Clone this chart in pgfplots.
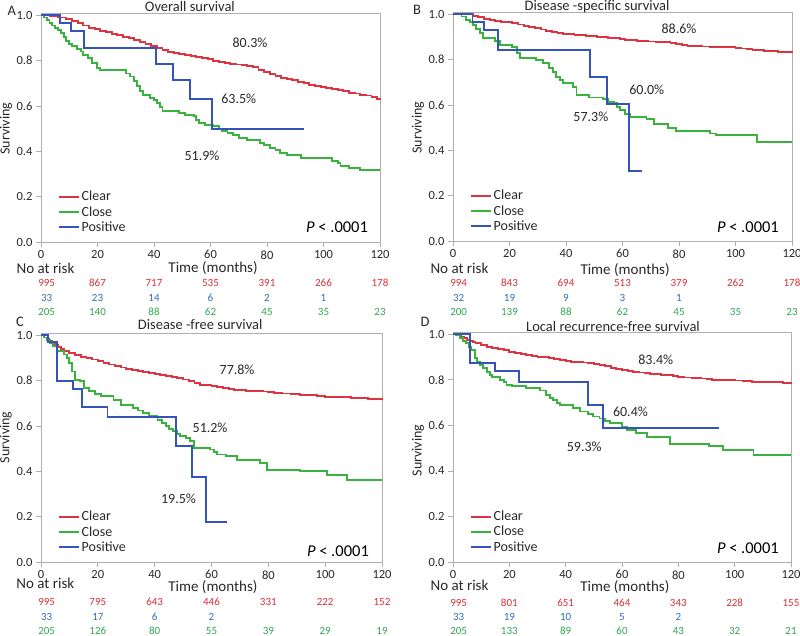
\documentclass[border=0pt]{standalone}
\usepackage{fontspec}
\setmainfont{Carlito}
\usepackage{pgfplots}
\pgfplotsset{compat=1.18}

\definecolor{cred}{RGB}{222,52,66}
\definecolor{cgreen}{RGB}{58,178,62}
\definecolor{cblue}{RGB}{52,84,188}
\definecolor{tred}{RGB}{214,48,58}
\definecolor{tblue}{RGB}{46,112,184}
\definecolor{tgreen}{RGB}{48,166,78}
\definecolor{axgray}{RGB}{175,175,175}
\definecolor{txt}{RGB}{40,40,40}

\pgfplotsset{
  km/.style={
    scale only axis, clip=false,
    xmin=0, xmax=120, ymin=0, ymax=1.01,
    xtick={0,20,40,60,80,100,120}, ytick={0,0.2,0.4,0.6,0.8,1},
    xtick pos=bottom, ytick pos=left, tick align=outside, major tick length=5pt,
    axis line style={axgray, line width=0.8pt},
    every tick/.style={axgray, line width=0.8pt},
    tick label style={font=\fontsize{12.5}{14}\selectfont, text=txt},
    /pgf/number format/assume math mode=true,
    yticklabel style={/pgf/number format/.cd, fixed, fixed zerofill, precision=1},
    legend cell align=left,
    legend image code/.code={\draw[##1] (0pt,0pt) -- (20pt,0pt);},
    legend style={draw=none, fill=none, at={(0.04,0.24)}, anchor=north west,
      font=\fontsize{14}{15}\selectfont, text=txt, row sep=0pt},
  },
  kml/.style={const plot, mark=none, line width=1.9pt, color=#1},
  risk/.style 2 args={forget plot, draw=none, nodes near coords,
    point meta=explicit symbolic, nodes near coords align=center,
    every node near coord/.append style={font=\fontsize{11}{12}\selectfont, text=#1, yshift=#2}},
}
\newcommand{\tfont}{\fontsize{14.5}{16}\selectfont}
\newcommand{\pfont}{\fontsize{14}{15}\selectfont}
\newcommand{\nfont}{\fontsize{15}{17}\selectfont}
\newcommand{\Pfont}{\fontsize{16.5}{18}\selectfont}

\begin{document}
\begin{tikzpicture}
\useasboundingbox (0pt,0pt) rectangle (800pt,-636pt);

% ---------------- A: overall survival
\begin{axis}[km, at={(41pt,-242pt)}, anchor=south west, width=339pt, height=229pt]
\addplot[kml=cred] coordinates {(0,1) (3,0.995) (6,0.99) (9,0.982) (11,0.975) (13,0.965) (15,0.955) (17,0.945) (19,0.938) (21,0.932) (23,0.925) (25,0.918) (27,0.912) (29,0.905) (31,0.898) (33,0.89) (35,0.883) (37,0.875) (39,0.866) (41,0.855) (43,0.845) (45,0.838) (47,0.833) (49,0.829) (51,0.825) (53,0.82) (55,0.816) (57,0.811) (59,0.806) (61,0.80) (63,0.795) (65,0.79) (67,0.787) (69,0.783) (71,0.779) (73,0.775) (75,0.77) (77,0.76) (79,0.75) (81,0.74) (83,0.732) (85,0.725) (87,0.719) (89,0.713) (91,0.706) (93,0.7) (95,0.694) (97,0.689) (99,0.683) (101,0.679) (103,0.675) (105,0.67) (107,0.664) (109,0.658) (111,0.655) (113,0.65) (115,0.646) (117,0.64) (119,0.632) (120,0.627)};
\addplot[kml=cgreen] coordinates {(0,1) (1,0.99) (2,0.98) (3,0.966) (4,0.955) (5,0.945) (6,0.935) (7,0.92) (8,0.905) (9,0.885) (10,0.875) (11,0.865) (12.6,0.85) (14,0.84) (15,0.826) (16.5,0.81) (18,0.79) (19.7,0.768) (21,0.76) (30,0.743) (31.5,0.73) (33,0.709) (34,0.69) (35,0.665) (36,0.65) (38.6,0.635) (40,0.625) (41,0.613) (42,0.595) (43,0.576) (49,0.57) (51,0.562) (54,0.554) (55,0.54) (56,0.525) (58,0.518) (61,0.51) (63,0.5) (64,0.49) (66,0.48) (68,0.47) (70,0.459) (73,0.45) (77.5,0.437) (79,0.426) (81,0.415) (83,0.405) (84.6,0.393) (87,0.385) (92,0.37) (103,0.356) (105,0.347) (106,0.337) (109,0.326) (113,0.316) (120,0.316)};
\addplot[kml=cblue] coordinates {(0,1) (6.7,0.966) (10.6,0.93) (15.3,0.857) (40.6,0.785) (46.8,0.715) (52.7,0.63) (60.4,0.50) (93,0.50)};
\legend{Clear, Close, Positive}
\addplot[risk={tred}{-41pt}] coordinates {(2,0)[995] (20,0)[867] (40,0)[717] (60,0)[535] (80,0)[391] (100,0)[266] (120,0)[178]};
\addplot[risk={tblue}{-56pt}] coordinates {(2,0)[33] (20,0)[23] (40,0)[14] (60,0)[6] (80,0)[2] (100,0)[1]};
\addplot[risk={tgreen}{-70pt}] coordinates {(2,0)[205] (20,0)[140] (40,0)[88] (60,0)[62] (80,0)[45] (100,0)[35] (120,0)[23]};
\node[font=\tfont, text=txt, yshift=235pt] at (axis cs:52.7,0) {Overall survival};
\node[font=\tfont, text=txt, yshift=231pt] at (axis cs:-10.3,0) {A};
\node[font=\pfont, text=txt, rotate=90] at (axis cs:-12.4,0.5) {Surviving};
\node[font=\pfont, text=txt] at (axis cs:74,0.878) {80.3\%};
\node[font=\pfont, text=txt] at (axis cs:70,0.63) {63.5\%};
\node[font=\pfont, text=txt] at (axis cs:57,0.38) {51.9\%};
\node[font=\Pfont, text=black, yshift=15pt] at (axis cs:104.8,0) {\textit{P} < .0001};
\node[font=\nfont, text=txt, anchor=west, yshift=-26pt] at (axis cs:-9.9,0) {No at risk};
\node[font=\nfont, text=txt, yshift=-26pt] at (axis cs:60.9,0) {Time (months)};
\end{axis}

% ---------------- B: disease-specific survival
\begin{axis}[km, at={(453pt,-241pt)}, anchor=south west, width=339pt, height=229pt]
\addplot[kml=cred] coordinates {(0,1) (5,1) (7,0.993) (9,0.987) (11,0.98) (13,0.975) (15,0.97) (17,0.967) (19,0.964) (21,0.96) (23,0.955) (25,0.95) (27,0.945) (29,0.94) (31,0.933) (33,0.927) (35,0.922) (37,0.918) (39,0.914) (41,0.911) (43,0.909) (45,0.907) (47,0.905) (49,0.903) (51,0.90) (53,0.899) (55,0.897) (57,0.894) (59,0.891) (61,0.888) (63,0.886) (65,0.884) (67,0.882) (69,0.88) (72,0.879) (75,0.878) (77,0.875) (79,0.87) (81,0.866) (83,0.862) (85,0.86) (88,0.858) (91,0.857) (94,0.856) (97,0.854) (100,0.852) (102,0.849) (104,0.846) (106,0.843) (108,0.841) (110,0.839) (112,0.837) (115,0.835) (120,0.834)};
\addplot[kml=cgreen] coordinates {(0,1) (3,0.99) (4.7,0.975) (6,0.965) (7,0.953) (8,0.935) (9.5,0.916) (10.6,0.894) (15,0.884) (16.5,0.864) (21,0.857) (22.5,0.828) (23.6,0.806) (29.5,0.798) (32,0.784) (34,0.762) (35.5,0.747) (36.6,0.724) (38,0.71) (39,0.698) (42.5,0.68) (43.7,0.644) (48,0.633) (53,0.626) (55,0.615) (57,0.607) (58,0.59) (59,0.577) (61,0.56) (62.6,0.548) (68.5,0.538) (71,0.518) (76,0.50) (79,0.485) (91,0.474) (93,0.467) (107.5,0.437) (120,0.437)};
\addplot[kml=cblue] coordinates {(0,1) (6.9,0.966) (11,0.93) (16,0.843) (48.5,0.722) (54.4,0.605) (62.3,0.31) (66.8,0.31)};
\legend{Clear, Close, Positive}
\addplot[risk={tred}{-42pt}] coordinates {(2,0)[994] (20,0)[843] (40,0)[694] (60,0)[513] (80,0)[379] (100,0)[262] (120,0)[178]};
\addplot[risk={tblue}{-57pt}] coordinates {(2,0)[32] (20,0)[19] (40,0)[9] (60,0)[3] (80,0)[1]};
\addplot[risk={tgreen}{-71pt}] coordinates {(2,0)[200] (20,0)[139] (40,0)[88] (60,0)[62] (80,0)[45] (100,0)[35] (120,0)[23]};
\node[font=\tfont, text=txt, yshift=234pt] at (axis cs:51,0) {Disease -specific survival};
\node[font=\tfont, text=txt, yshift=231pt] at (axis cs:-12.7,0) {B};
\node[font=\pfont, text=txt, rotate=90] at (axis cs:-12.4,0.5) {Surviving};
\node[font=\pfont, text=txt] at (axis cs:80,0.938) {88.6\%};
\node[font=\pfont, text=txt] at (axis cs:68.6,0.666) {60.0\%};
\node[font=\pfont, text=txt] at (axis cs:48.8,0.548) {57.3\%};
\node[font=\Pfont, text=black, yshift=14pt] at (axis cs:104.4,0) {\textit{P} < .0001};
\node[font=\nfont, text=txt, anchor=west, yshift=-27pt] at (axis cs:-9.2,0) {No at risk};
\node[font=\nfont, text=txt, yshift=-29.5pt] at (axis cs:60.9,0) {Time (months)};
\end{axis}

% ---------------- C: disease-free survival
\begin{axis}[km, at={(41pt,-562pt)}, anchor=south west, width=341pt, height=229pt]
\addplot[kml=cred] coordinates {(0,1) (1,0.99) (2,0.982) (3,0.974) (4,0.965) (5,0.957) (6,0.948) (7,0.94) (8,0.932) (10,0.922) (12,0.913) (14,0.906) (16,0.9) (18,0.893) (20,0.885) (22,0.878) (24,0.871) (26,0.864) (28,0.858) (30,0.852) (32,0.847) (34,0.843) (36,0.838) (38,0.833) (40,0.829) (42,0.825) (44,0.821) (46,0.817) (48,0.812) (50,0.805) (52,0.797) (54,0.79) (56,0.782) (58,0.779) (60,0.776) (62,0.77) (64,0.766) (66,0.763) (68,0.76) (70,0.758) (72,0.756) (74,0.754) (76,0.753) (78,0.752) (80,0.75) (82,0.746) (85,0.743) (88,0.74) (91,0.738) (94,0.735) (97,0.732) (100,0.729) (103,0.728) (106,0.726) (109,0.724) (112,0.722) (115,0.72) (118,0.717) (120,0.714)};
\addplot[kml=cgreen] coordinates {(0,1) (1,0.99) (2,0.98) (3.2,0.966) (4.3,0.951) (5.5,0.93) (8,0.915) (9,0.9) (10,0.878) (11,0.84) (12,0.804) (13.7,0.797) (15,0.768) (17,0.753) (19,0.742) (21,0.731) (25.5,0.716) (28,0.694) (32.5,0.68) (34,0.668) (36,0.657) (38,0.645) (41,0.628) (42.5,0.614) (44,0.6) (45,0.588) (46.6,0.576) (48,0.565) (49,0.554) (51,0.545) (52.5,0.532) (53.7,0.503) (59.5,0.496) (61,0.485) (62,0.474) (65,0.466) (69,0.451) (77,0.437) (79.5,0.407) (91,0.4) (100.6,0.382) (107.7,0.363) (120,0.363)};
\addplot[kml=cblue] coordinates {(0,1) (2.6,0.97) (5.5,0.80) (11.4,0.765) (14.3,0.685) (23.4,0.64) (47.4,0.51) (53,0.375) (58,0.178) (65.6,0.178)};
\legend{Clear, Close, Positive}
\addplot[risk={tred}{-40pt}] coordinates {(2,0)[995] (20,0)[795] (40,0)[643] (60,0)[446] (80,0)[331] (100,0)[222] (120,0)[152]};
\addplot[risk={tblue}{-55pt}] coordinates {(2,0)[33] (20,0)[17] (40,0)[6] (60,0)[2]};
\addplot[risk={tgreen}{-69pt}] coordinates {(2,0)[205] (20,0)[126] (40,0)[80] (60,0)[55] (80,0)[39] (100,0)[29] (120,0)[19]};
\node[font=\tfont, text=txt, yshift=237pt] at (axis cs:56,0) {Disease -free survival};
\node[font=\tfont, text=txt, yshift=240pt] at (axis cs:-7.4,0) {C};
\node[font=\pfont, text=txt, rotate=90] at (axis cs:-12.4,0.55) {Surviving};
\node[font=\pfont, text=txt] at (axis cs:69,0.85) {77.8\%};
\node[font=\pfont, text=txt] at (axis cs:59.5,0.59) {51.2\%};
\node[font=\pfont, text=txt] at (axis cs:48.4,0.28) {19.5\%};
\node[font=\Pfont, text=black, yshift=11pt] at (axis cs:104.5,0) {\textit{P} < .0001};
\node[font=\nfont, text=txt, anchor=west, yshift=-21pt] at (axis cs:-9.9,0) {No at risk};
\node[font=\nfont, text=txt, yshift=-25pt] at (axis cs:60.5,0) {Time (months)};
\end{axis}

% ---------------- D: local recurrence-free survival
\begin{axis}[km, at={(453pt,-562pt)}, anchor=south west, width=338pt, height=230pt]
\addplot[kml=cred] coordinates {(0,1) (2,0.998) (3,0.99) (4,0.983) (5,0.975) (6,0.97) (7,0.965) (8,0.96) (10,0.953) (12,0.945) (14,0.94) (16,0.935) (18,0.929) (20,0.923) (22,0.917) (24,0.912) (26,0.908) (28,0.905) (30,0.902) (32,0.899) (34,0.895) (36,0.89) (38,0.886) (40,0.883) (42,0.88) (44,0.878) (46,0.876) (48,0.874) (50,0.871) (52,0.866) (54,0.86) (56,0.853) (58,0.846) (60,0.842) (62,0.839) (64,0.836) (66,0.832) (68,0.828) (70,0.825) (72,0.824) (74,0.823) (76,0.822) (78,0.818) (80,0.812) (82,0.81) (85,0.808) (88,0.806) (90,0.803) (92,0.8) (95,0.799) (98,0.798) (100,0.797) (103,0.795) (106,0.792) (110,0.791) (114,0.79) (117,0.788) (120,0.785)};
\addplot[kml=cgreen] coordinates {(0,1) (1,0.995) (2.4,0.982) (3.5,0.97) (4.7,0.96) (5.5,0.945) (6.5,0.931) (7.7,0.895) (8.5,0.88) (9.5,0.865) (10.5,0.85) (12,0.836) (13,0.82) (14,0.811) (16.6,0.80) (18,0.79) (19,0.778) (21,0.773) (26,0.763) (31,0.753) (33,0.734) (34.5,0.72) (35.6,0.712) (37,0.7) (38,0.69) (42.7,0.675) (45,0.661) (48,0.65) (49.8,0.639) (52,0.63) (54,0.62) (55.7,0.61) (60,0.593) (61.7,0.58) (65,0.566) (68.8,0.548) (77,0.519) (91,0.51) (96,0.493) (106.7,0.471) (120,0.471)};
\addplot[kml=cblue] coordinates {(0,1) (5.9,0.875) (14.8,0.838) (23.5,0.79) (48,0.69) (53.4,0.59) (94.3,0.59)};
\legend{Clear, Close, Positive}
\addplot[risk={tred}{-41pt}] coordinates {(2,0)[995] (20,0)[801] (40,0)[651] (60,0)[464] (80,0)[343] (100,0)[228] (120,0)[155]};
\addplot[risk={tblue}{-55pt}] coordinates {(2,0)[33] (20,0)[19] (40,0)[10] (60,0)[5] (80,0)[2]};
\addplot[risk={tgreen}{-69pt}] coordinates {(2,0)[205] (20,0)[133] (40,0)[89] (60,0)[60] (80,0)[43] (100,0)[32] (120,0)[21]};
\node[font=\tfont, text=txt, yshift=235pt] at (axis cs:56.8,0) {Local recurrence-free survival};
\node[font=\tfont, text=txt, yshift=240pt] at (axis cs:-9.9,0) {D};
\node[font=\pfont, text=txt, rotate=90] at (axis cs:-12.4,0.49) {Surviving};
\node[font=\pfont, text=txt] at (axis cs:72,0.887) {83.4\%};
\node[font=\pfont, text=txt] at (axis cs:63,0.66) {60.4\%};
\node[font=\pfont, text=txt] at (axis cs:46.6,0.507) {59.3\%};
\node[font=\Pfont, text=black, yshift=14pt] at (axis cs:104.7,0) {\textit{P} < .0001};
\node[font=\nfont, text=txt, anchor=west, yshift=-23pt] at (axis cs:-9.2,0) {No at risk};
\node[font=\nfont, text=txt, yshift=-25pt] at (axis cs:61,0) {Time (months)};
\end{axis}
\end{tikzpicture}
\end{document}
